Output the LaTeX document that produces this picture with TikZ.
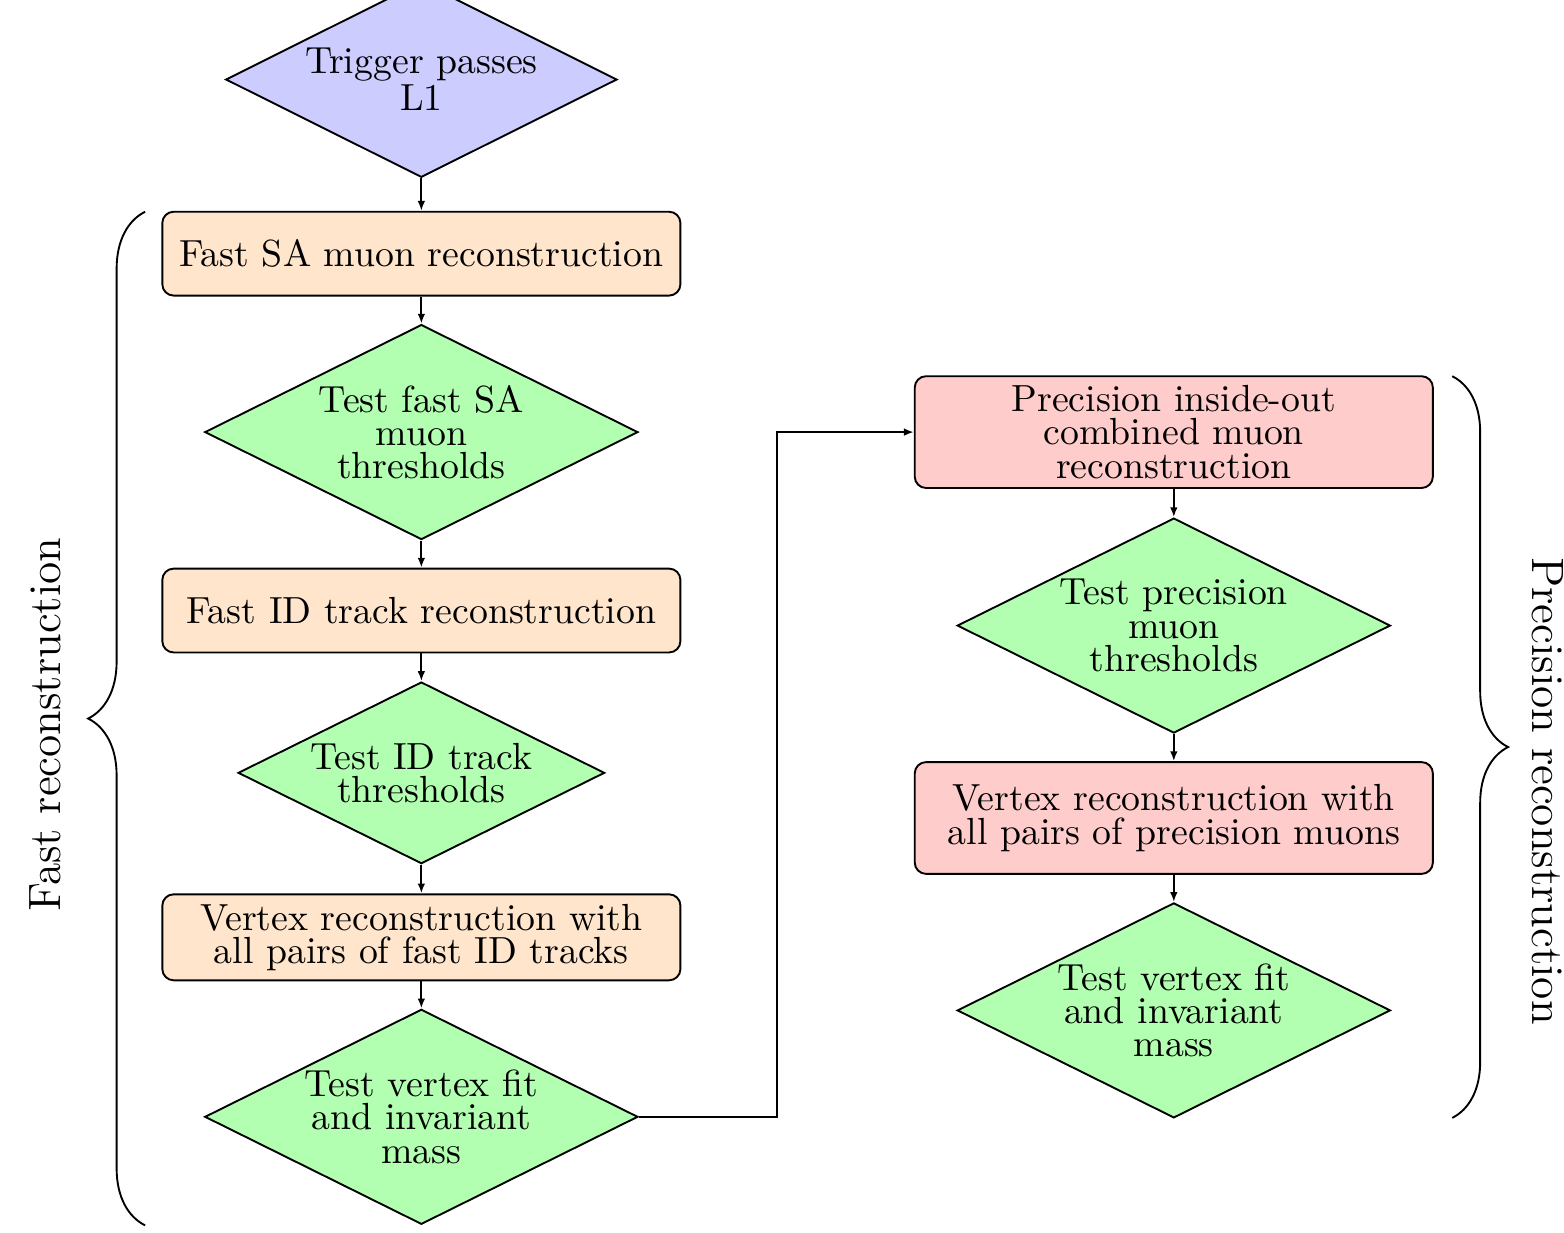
\documentclass[tikz,border=0pt]{standalone}
\usepackage{amsmath}
\usepackage{xcolor}
\usepackage{tikz}
\usetikzlibrary{arrows.meta}
\usetikzlibrary{shapes.geometric}
\usetikzlibrary{decorations.pathreplacing}
\tikzset{
    style fast/.style={
    rectangle, rounded corners=3pt, fill=orange!20,
    minimum width=4.82cm, minimum height=0.78cm, inner sep=2pt,
  },
  style precision/.style={
    rectangle, rounded corners=3pt, fill=red!20,
    minimum width=4.82cm, minimum height=1.04cm, inner sep=2pt,
  },
  style test/.style={
    diamond, aspect=2, fill=green!30, inner sep=0pt,
    minimum width=4.03cm, minimum height=2cm,
  },
  style trigger/.style={
    diamond, aspect=2, fill=blue!20, inner sep=0pt,
    minimum width=3.64cm, minimum height=1.82cm,
  },
  style brace/.style={
    decorate, decoration={brace, amplitude=#1},
  }
}

\begin{document}
\begin{tikzpicture}
                    \useasboundingbox (0,0) rectangle (14.55,11.47);
                    \begin{scope}[every node/.style={draw,line width=0.5pt,align=center,font=\fontsize{10}{8.8}\selectfont}]
                        \node [style trigger] (trig) at (3.92, 10.73) {Trigger passes\\L1};

                        \node [style fast] (fastsa) at (3.92, 9.11) {Fast SA muon reconstruction};
                        \node [style test] (testsa) at (3.92, 7.45) {Test fast SA\\muon\\thresholds};
                        \node [style fast] (fastid) at (3.92, 5.79) {Fast ID track reconstruction};
                        \node [style test, minimum width=3.41cm, minimum height=1.69cm] (testid) at (3.92, 4.28) {Test ID track\\thresholds};
                        \node [style fast, minimum height=0.8cm] (vtxfast) at (3.92, 2.75) {Vertex reconstruction with\\all pairs of fast ID tracks};
                        \node [style test] (testvtxfast) at (3.92, 1.08) {Test vertex fit\\and invariant\\mass};

                        \node [style precision] (precmuon) at (10.92, 7.45) {Precision inside-out\\combined muon\\reconstruction};
                        \node [style test] (testprec) at (10.92, 5.65) {Test precision\\muon\\thresholds};
                        \node [style precision] (vtxprec) at (10.92, 3.86) {Vertex reconstruction with\\all pairs of precision muons};
                        \node [style test] (testvtxprec) at (10.92, 2.07) {Test vertex fit\\and invariant\\mass};
                    \end{scope}
                    \begin{scope}[>={Latex[length=2.6pt,width=2pt]},every edge/.style={draw,line width=0.5pt}]
                        \path [->] (trig) edge (fastsa);
                        \path [->] (fastsa) edge (testsa);
                        \path [->] (testsa) edge (fastid);
                        \path [->] (fastid) edge (testid);
                        \path [->] (testid) edge (vtxfast);
                        \path [->] (vtxfast) edge (testvtxfast);
                        \path [->] (precmuon) edge (testprec);
                        \path [->] (testprec) edge (vtxprec);
                        \path [->] (vtxprec) edge (testvtxprec);

                        \coordinate (bend) at (7.23, 1.08);
                        \draw [->, line width=0.5pt] (testvtxfast.east) -- (bend) |- (precmuon.west);
                    \end{scope}
                    % braces round the two stages
                    \coordinate (fastbot) at (1.35, 0.07);
                    \coordinate (fasttop) at (1.35, 9.50);
                    \coordinate (prectop) at (13.51, 7.97);
                    \coordinate (precbot) at (13.51, 1.07);
                    \draw [style brace=0.53cm, line width=0.5pt] (fastbot) -- (fasttop);
                    \draw [style brace=0.52cm, line width=0.5pt] (prectop) -- (precbot);
                    \node [rotate=90, font=\large] (fastlabel) at (0.42, 4.73) {Fast reconstruction};
                    \node [rotate=-90, font=\large] (preclabel) at (14.40, 4.11) {Precision reconstruction};
                \end{tikzpicture}
\end{document}
